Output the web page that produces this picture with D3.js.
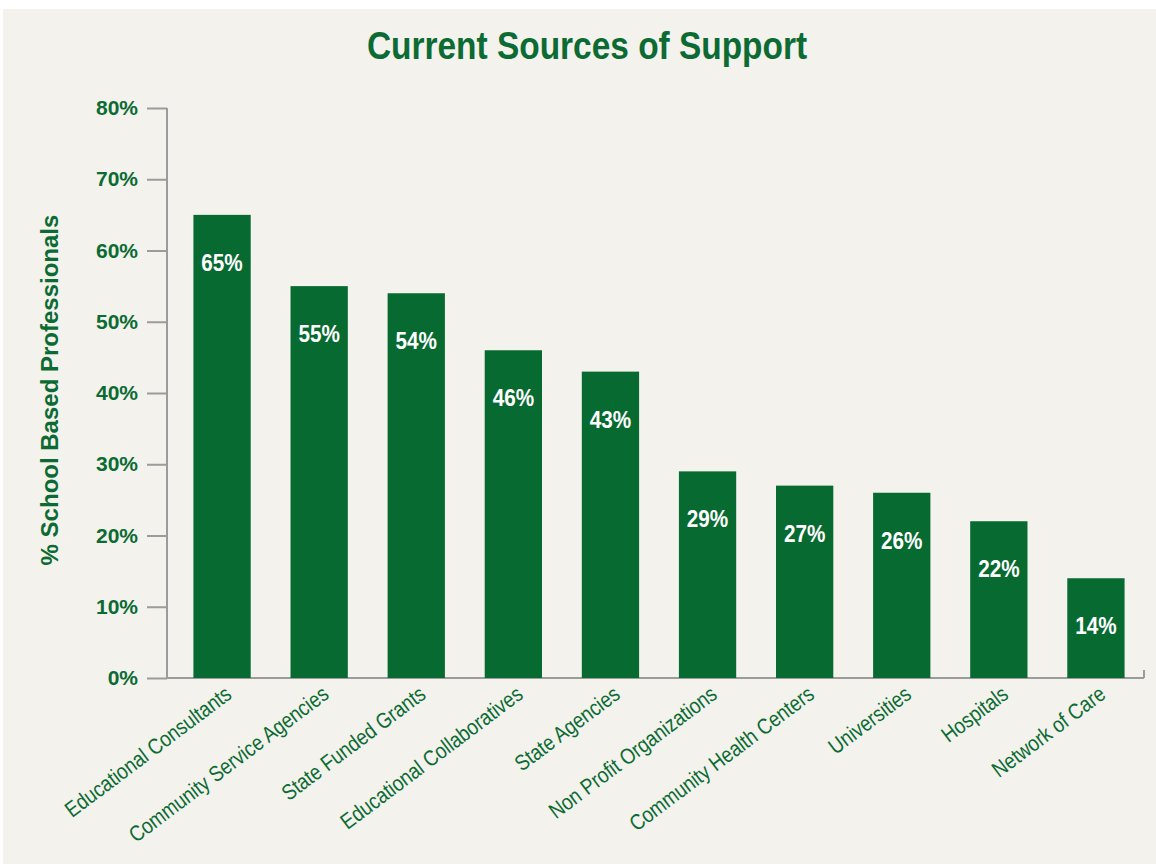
<!DOCTYPE html>
<html>
<head>
<meta charset="utf-8">
<script src="https://cdn.jsdelivr.net/npm/d3@7"></script>
<style>
  body { margin: 0; background: #ffffff; }
  svg { display: block; }
</style>
</head>
<body>
<svg id="chart"></svg>
<script>
// data
var categories = ["Educational Consultants", "Community Service Agencies", "State Funded Grants",
                  "Educational Collaboratives", "State Agencies", "Non Profit Organizations",
                  "Community Health Centers", "Universities", "Hospitals", "Network of Care"]
var values = [65, 55, 54, 46, 43, 29, 27, 26, 22, 14]
var yTicks = [0, 10, 20, 30, 40, 50, 60, 70, 80]

var green = "#076a31"
var textGreen = "#0b6b33"
var axisGray = "#9b9b9b"
var sans = "'Liberation Sans', Arial, sans-serif"

var dimensions = {
    width: 1156,
    height: 864,
    margin: { top: 108, bottom: 186, left: 174, right: 12 }
}

var svg = d3.select("#chart")
            .attr("width", dimensions.width)
            .attr("height", dimensions.height)

// panel background
svg.append("rect")
   .attr("x", 3)
   .attr("y", 9)
   .attr("width", dimensions.width - 3)
   .attr("height", dimensions.height - 9)
   .attr("fill", "#f3f2ed")

var xScale = d3.scaleBand()
               .domain(categories)
               .range([dimensions.margin.left, dimensions.width - dimensions.margin.right])
               .paddingInner(0.41)
               .paddingOuter(0.2)

var yScale = d3.scaleLinear()
               .domain([0, 80])
               .range([dimensions.height - dimensions.margin.bottom, dimensions.margin.top])

var axisX0 = 167

// title (narrowed to look condensed)
svg.append("text")
   .attr("transform", "translate(587,59) scale(0.88,1)")
   .attr("text-anchor", "middle")
   .style("font-family", sans)
   .style("font-weight", "bold")
   .style("font-size", "38px")
   .style("fill", textGreen)
   .text("Current Sources of Support")

// y axis
var yAxis = svg.append("g")
               .attr("transform", "translate(" + axisX0 + ",0)")
               .call(d3.axisLeft(yScale).tickValues(yTicks).tickSize(20).tickPadding(9)
                       .tickFormat(d => d + "%"))
yAxis.selectAll("line").attr("stroke", axisGray).attr("stroke-width", 2)
yAxis.select(".domain").attr("stroke", axisGray).attr("stroke-width", 2)
     .attr("d", "M0," + yScale(80) + "V" + yScale(0))
yAxis.selectAll("text")
     .style("font-family", sans)
     .style("font-weight", "bold")
     .style("font-size", "21px")
     .style("fill", textGreen)

// x axis baseline
svg.append("line")
   .attr("x1", axisX0)
   .attr("x2", xScale.range()[1])
   .attr("y1", yScale(0))
   .attr("y2", yScale(0))
   .attr("stroke", axisGray)
   .attr("stroke-width", 2)
svg.append("line")
   .attr("x1", xScale.range()[1])
   .attr("x2", xScale.range()[1])
   .attr("y1", yScale(0))
   .attr("y2", yScale(0) - 8)
   .attr("stroke", axisGray)
   .attr("stroke-width", 2)

// y axis title
svg.append("text")
   .attr("transform", "translate(58,390) rotate(-90)")
   .attr("text-anchor", "middle")
   .style("font-family", sans)
   .style("font-weight", "bold")
   .style("font-size", "24px")
   .style("fill", textGreen)
   .text("% School Based Professionals")

// bars
svg.append("g")
   .selectAll("rect")
   .data(values)
   .enter()
   .append("rect")
   .attr("x", (d, i) => xScale(categories[i]))
   .attr("y", d => yScale(d))
   .attr("width", xScale.bandwidth())
   .attr("height", d => yScale(0) - yScale(d))
   .attr("fill", green)

// value labels
svg.append("g")
   .selectAll("text")
   .data(values)
   .enter()
   .append("text")
   .attr("transform", (d, i) => "translate(" + (xScale(categories[i]) + xScale.bandwidth() / 2) + "," + (yScale(d) + 56) + ") scale(0.9,1)")
   .attr("text-anchor", "middle")
   .style("font-family", sans)
   .style("font-weight", "bold")
   .style("font-size", "23px")
   .style("fill", "#ffffff")
   .text(d => d + "%")

// category labels
svg.append("g")
   .selectAll("text")
   .data(categories)
   .enter()
   .append("text")
   .attr("transform", d => "translate(" + (xScale(d) + xScale.bandwidth() / 2 + 11) + "," + (yScale(0) + 19) + ") rotate(-37) scale(0.85,1)")
   .attr("text-anchor", "end")
   .style("font-family", sans)
   .style("font-size", "22px")
   .style("fill", textGreen)
   .text(d => d)
</script>
</body>
</html>
